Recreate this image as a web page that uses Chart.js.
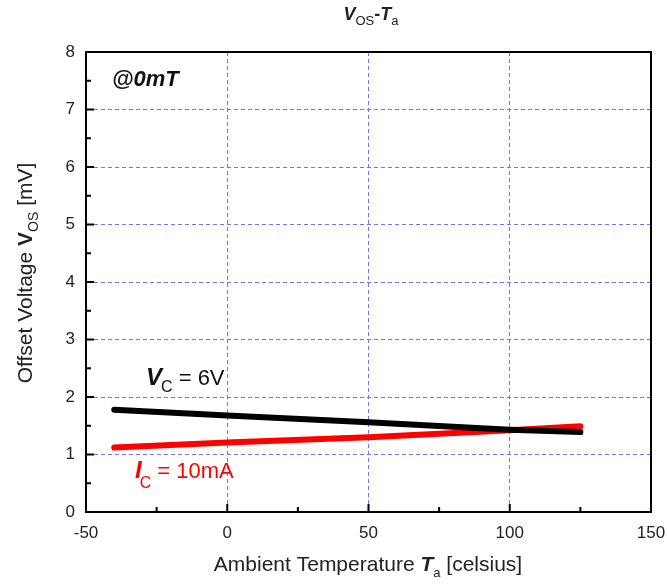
<!DOCTYPE html>
<html>
<head>
<meta charset="utf-8">
<script src="https://cdn.jsdelivr.net/npm/chart.js@4.4.1/dist/chart.umd.min.js"></script>
<style>
  html, body { margin: 0; padding: 0; background: #fff; }
  #wrap { width: 667px; height: 586px; }
</style>
</head>
<body>
<div id="wrap"><canvas id="c" width="667" height="586"></canvas></div>
<script>
// data
const temps = [-40, 0, 50, 100, 125];
const vcSeries = [1.78, 1.68, 1.56, 1.43, 1.39];
const icSeries = [1.12, 1.21, 1.30, 1.42, 1.49];
const xTicks = [-50, 0, 50, 100, 150];
const yTicks = [0, 1, 2, 3, 4, 5, 6, 7, 8];

const FONT = '"Liberation Sans", Arial, sans-serif';

// draw a line of text made of pieces (for subscripts / bold italic parts)
function richText(ctx, parts, x, y, align, color) {
  ctx.save();
  ctx.fillStyle = color || '#222';
  ctx.textBaseline = 'alphabetic';
  ctx.textAlign = 'left';
  let w = 0;
  parts.forEach(p => { ctx.font = p.font; w += ctx.measureText(p.t).width + (p.dx || 0); });
  let cx = align === 'center' ? x - w / 2 : x;
  parts.forEach(p => {
    ctx.font = p.font;
    cx += p.dx || 0;
    ctx.fillText(p.t, cx, y + (p.dy || 0));
    cx += ctx.measureText(p.t).width;
  });
  ctx.restore();
}

const decor = {
  id: 'decor',
  afterDatasetsDraw(chart) {
    const ctx = chart.ctx;
    const a = chart.chartArea;
    const xs = chart.scales.x, ys = chart.scales.y;
    ctx.save();
    // frame
    ctx.strokeStyle = '#000';
    ctx.lineWidth = 2;
    ctx.strokeRect(a.left, a.top, a.right - a.left, a.bottom - a.top);
    // inward ticks
    ctx.beginPath();
    for (let v = -50; v <= 150; v += 25) {
      const px = xs.getPixelForValue(v);
      const len = v % 50 === 0 ? 8 : 5;
      ctx.moveTo(px, a.bottom); ctx.lineTo(px, a.bottom - len);
    }
    for (let v = 0; v <= 8; v += 0.5) {
      const py = ys.getPixelForValue(v);
      const len = Number.isInteger(v) ? 8 : 5;
      ctx.moveTo(a.left, py); ctx.lineTo(a.left + len, py);
    }
    ctx.stroke();
    ctx.restore();

    // title
    richText(ctx, [
      { t: 'V', font: 'bold italic 18px ' + FONT },
      { t: 'OS', font: '13px ' + FONT, dy: 5 },
      { t: '-', font: 'bold 18px ' + FONT },
      { t: 'T', font: 'bold italic 18px ' + FONT },
      { t: 'a', font: '13px ' + FONT, dy: 5 }
    ], 371, 20, 'center', '#222');

    // x title
    richText(ctx, [
      { t: 'Ambient Temperature ', font: '21px ' + FONT },
      { t: 'T', font: 'bold italic 21px ' + FONT },
      { t: 'a', font: '13px ' + FONT, dy: 6 },
      { t: ' [celsius]', font: '21px ' + FONT }
    ], 368, 571, 'center', '#222');

    // y title (rotated)
    ctx.save();
    ctx.translate(32, 273);
    ctx.rotate(-Math.PI / 2);
    richText(ctx, [
      { t: 'Offset Voltage ', font: '21px ' + FONT },
      { t: 'V', font: 'bold 21px ' + FONT },
      { t: 'OS', font: '14px ' + FONT, dy: 6 },
      { t: ' [mV]', font: '21px ' + FONT }
    ], 0, 0, 'center', '#222');
    ctx.restore();

    // annotations
    richText(ctx, [{ t: '@0mT', font: 'bold italic 22px ' + FONT }], 112, 86, 'left', '#111');
    richText(ctx, [
      { t: 'V', font: 'bold italic 24px ' + FONT },
      { t: 'C', font: '16px ' + FONT, dy: 7, dx: -1 },
      { t: ' = 6V', font: '22px ' + FONT }
    ], 146, 385, 'left', '#111');
    richText(ctx, [
      { t: 'I', font: 'bold italic 24px ' + FONT },
      { t: 'C', font: '16px ' + FONT, dy: 10, dx: -2 },
      { t: ' = 10mA', font: '22px ' + FONT }
    ], 135, 478, 'left', '#ff0000');
  }
};

const gridStyle = {
  color: '#7474f2',
  lineWidth: 1,
  drawTicks: false
};

new Chart(document.getElementById('c'), {
  type: 'line',
  data: {
    datasets: [
      { label: 'VC = 6V', data: temps.map((t, i) => ({ x: t, y: vcSeries[i] })),
        borderColor: '#000', borderWidth: 6, pointRadius: 0, borderCapStyle: 'round', tension: 0 },
      { label: 'IC = 10mA', data: temps.map((t, i) => ({ x: t, y: icSeries[i] })),
        borderColor: '#ff0000', borderWidth: 6, pointRadius: 0, borderCapStyle: 'round', tension: 0 }
    ]
  },
  options: {
    responsive: false,
    animation: false,
    layout: { padding: { top: 52, right: 16, left: 0, bottom: 0 } },
    plugins: { legend: { display: false }, tooltip: { enabled: false } },
    scales: {
      x: {
        type: 'linear', min: -50, max: 150,
        afterBuildTicks: s => { s.ticks = xTicks.map(v => ({ value: v })); },
        afterFit: s => { s.height = 74; s.paddingLeft = 0; s.paddingRight = 0; },
        grid: gridStyle,
        border: { display: true, color: '#000', width: 2, dash: [4, 3] },
        ticks: { color: '#222', font: { family: FONT, size: 17 }, padding: 11, maxRotation: 0 }
      },
      y: {
        type: 'linear', min: 0, max: 8,
        afterBuildTicks: s => { s.ticks = yTicks.map(v => ({ value: v })); },
        afterFit: s => { s.width = 86; s.paddingTop = 0; s.paddingBottom = 0; },
        grid: gridStyle,
        border: { display: true, color: '#000', width: 2, dash: [4, 3] },
        ticks: { color: '#222', font: { family: FONT, size: 17 }, padding: 11 }
      }
    }
  },
  plugins: [decor]
});
</script>
</body>
</html>
